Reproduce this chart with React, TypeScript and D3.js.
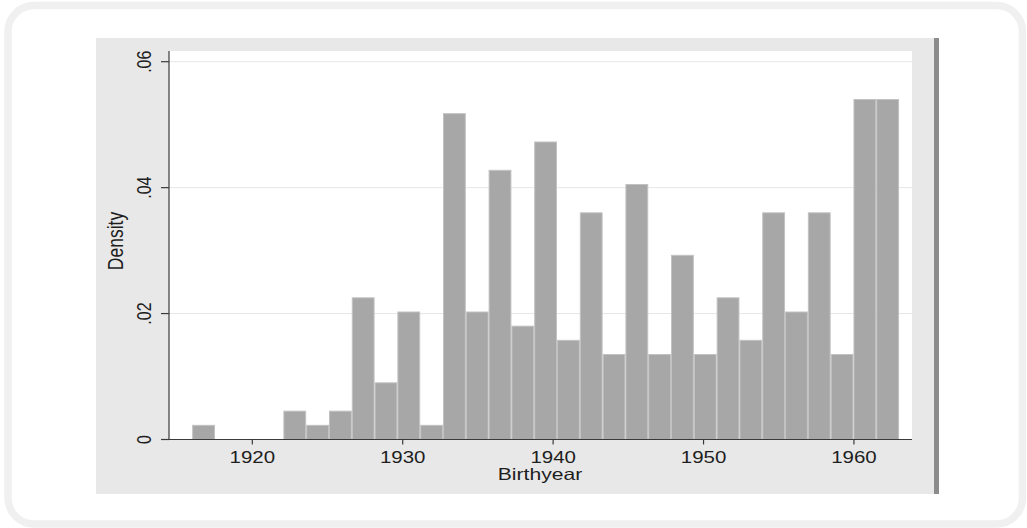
import React from 'react';
import * as d3 from 'd3';

// histogram of birth years, 31 bins from 1916 to 1963
const binStart = 1916;
const binEnd = 1963;
const densities = [
  0.00225, 0, 0, 0, 0.0045, 0.00225, 0.0045, 0.0225, 0.009, 0.02025,
  0.00225, 0.05175, 0.02025, 0.04275, 0.018, 0.04725, 0.01575, 0.036, 0.0135, 0.0405,
  0.0135, 0.02925, 0.0135, 0.0225, 0.01575, 0.036, 0.02025, 0.036, 0.0135, 0.054,
  0.054,
];
const xTicks = [1920, 1930, 1940, 1950, 1960];
const yTicks = [0, 0.02, 0.04, 0.06];
const yTickLabels = ['0', '.02', '.04', '.06'];

const W = 1027;
const H = 528;
const plot = { left: 169, right: 912, top: 51, bottom: 439.5 };
const stretch = 1.28; // the original graph is squeezed wider than tall
const font = '"Liberation Sans", Arial, Helvetica, sans-serif';

const App = () => {
  const xScale = d3.scaleLinear().domain([1914.46, 1963.86]).range([plot.left, plot.right]);
  const yScale = d3.scaleLinear().domain([0, 0.0617]).range([plot.bottom, plot.top]);
  const binW = (binEnd - binStart) / densities.length;

  const bars = densities.map((d, i) => {
    if (d <= 0) return null;
    const x0 = xScale(binStart + i * binW);
    const x1 = xScale(binStart + (i + 1) * binW);
    return (
      <rect
        key={i}
        x={x0 + 0.5}
        y={yScale(d)}
        width={x1 - x0 - 1}
        height={plot.bottom - yScale(d)}
        fill="#a7a7a7"
        stroke="#c2c2c2"
        strokeWidth={1}
      />
    );
  });

  return (
    <svg
      width={W}
      height={H}
      style={{ position: 'absolute', left: 0, top: 0, display: 'block', background: '#fff' }}
    >
      <rect x={8} y={5.5} width={1014.5} height={518.5} rx={26} fill="#fff" stroke="#f0f0f0" strokeWidth={7.5} />
      <rect x={96} y={38} width={838} height={456} fill="#e8e8e8" />
      <rect x={934} y={38} width={5} height={456} fill="#8c8c8c" />
      <rect x={plot.left} y={plot.top} width={plot.right - plot.left} height={plot.bottom - plot.top} fill="#fff" />

      {yTicks.filter((t) => t > 0).map((t) => (
        <line key={t} x1={plot.left} x2={plot.right} y1={yScale(t)} y2={yScale(t)} stroke="#e6e6e6" strokeWidth={1} />
      ))}

      {bars}

      {/* axes */}
      <line x1={plot.left} x2={plot.left} y1={plot.top} y2={plot.bottom} stroke="#3a3a3a" strokeWidth={1.2} />
      <line x1={plot.left} x2={plot.right} y1={plot.bottom} y2={plot.bottom} stroke="#3a3a3a" strokeWidth={1.2} />

      {yTicks.map((t, i) => (
        <g key={t}>
          <line x1={plot.left - 8} x2={plot.left} y1={yScale(t)} y2={yScale(t)} stroke="#3a3a3a" strokeWidth={1.2} />
          <text
            transform={`translate(151, ${yScale(t)}) scale(${stretch}, 1) rotate(-90)`}
            textAnchor="middle"
            style={{ fontFamily: font, fontSize: '16px', fill: '#1e1e1e' }}
          >
            {yTickLabels[i]}
          </text>
        </g>
      ))}

      {xTicks.map((t) => (
        <g key={t}>
          <line x1={xScale(t)} x2={xScale(t)} y1={plot.bottom} y2={plot.bottom + 5} stroke="#3a3a3a" strokeWidth={1.2} />
          <text
            transform={`translate(${xScale(t)}, 463.3) scale(${stretch}, 1)`}
            textAnchor="middle"
            style={{ fontFamily: font, fontSize: '16px', fill: '#1e1e1e' }}
          >
            {t}
          </text>
        </g>
      ))}

      <text
        transform={`translate(540, 480) scale(${stretch}, 1)`}
        textAnchor="middle"
        style={{ fontFamily: font, fontSize: '16.5px', fill: '#1e1e1e' }}
      >
        Birthyear
      </text>
      <text
        transform={`translate(123, 241) scale(${stretch}, 1) rotate(-90)`}
        textAnchor="middle"
        style={{ fontFamily: font, fontSize: '17.5px', fill: '#1e1e1e' }}
      >
        Density
      </text>
    </svg>
  );
};

export default App;
